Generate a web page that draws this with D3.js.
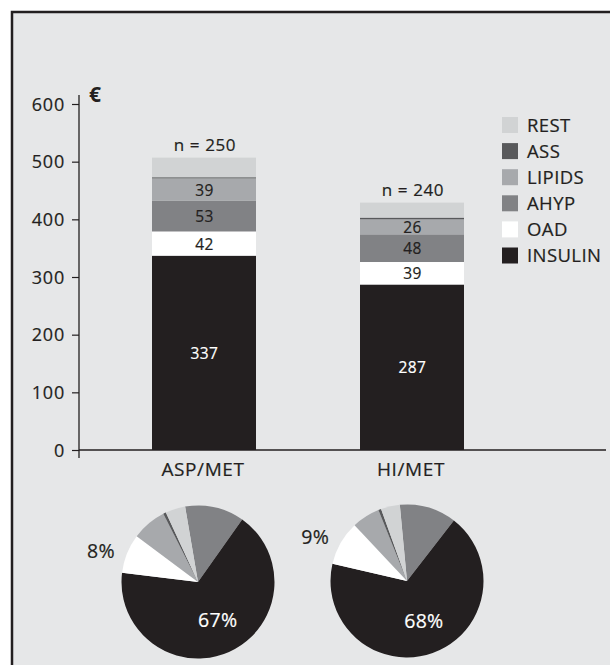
<!DOCTYPE html>
<html>
<head>
<meta charset="utf-8">
<script src="https://cdn.jsdelivr.net/npm/d3@7"></script>
<style>
  html, body { margin: 0; padding: 0; background: #ffffff; }
  svg { display: block; font-family: "Open Sans", "Noto Sans", sans-serif; }
  svg text { stroke-width: 0.2px; }
</style>
</head>
<body>
<svg id="chart" width="610" height="665"></svg>
<script>
// ---- data ----
const groups = ["ASP/MET", "HI/MET"];
const nLabels = ["n = 250", "n = 240"];
const seriesNames = ["INSULIN", "OAD", "AHYP", "LIPIDS", "ASS", "REST"];
const insulin = [337, 287];
const oad = [42, 39];
const ahyp = [53, 48];
const lipids = [39, 26];
const ass = [2, 3];
const rest = [34, 26];
const labelled = ["INSULIN", "OAD", "AHYP", "LIPIDS"];
const yTicks = [0, 100, 200, 300, 400, 500, 600];
const legendOrder = ["REST", "ASS", "LIPIDS", "AHYP", "OAD", "INSULIN"];
// pie shares (%), clockwise order
const pieOrder = ["AHYP", "INSULIN", "OAD", "LIPIDS", "ASS", "REST"];
const pieASP = [12.5, 67.1, 8.3, 7.3, 0.6, 4.2];
const pieHI = [12.0, 68.1, 9.4, 5.9, 0.6, 4.0];
const pieLabelled = ["INSULIN", "OAD"];

// ---- styles ----
const colors = {
  INSULIN: "#231f20", OAD: "#ffffff", AHYP: "#818285",
  LIPIDS: "#a7a9ac", ASS: "#58595b", REST: "#d1d3d4"
};
const textColors = { INSULIN: "#ffffff", OAD: "#231f20", AHYP: "#231f20", LIPIDS: "#231f20" };
const ink = "#231f20";

const svg = d3.select("#chart");
// panel background with border on left/top
svg.append("rect").attr("x", 12).attr("y", 12).attr("width", 620).attr("height", 680)
  .attr("fill", "#e6e7e8").attr("stroke", ink).attr("stroke-width", 2.5);

const y = d3.scaleLinear().domain([0, 600]).range([450, 104]);
const x = d3.scaleBand().domain(groups).range([100, 516]).paddingInner(0.5).paddingOuter(0.25);

// axis
const axis = d3.axisLeft(y).tickValues(yTicks).tickSize(7).tickPadding(7).tickSizeOuter(0);
const gAxis = svg.append("g").attr("transform", "translate(79,0)").call(axis);
gAxis.select(".domain").remove();
gAxis.selectAll(".tick line").attr("stroke", ink).attr("stroke-width", 1.2);
gAxis.selectAll(".tick text").attr("font-size", 18).attr("fill", ink).attr("stroke", ink)
  .attr("letter-spacing", 0.8).attr("dy", "0.34em")
  .attr("font-family", "'Open Sans', sans-serif");
svg.append("line").attr("x1", 79).attr("x2", 79).attr("y1", 95).attr("y2", 458)
  .attr("stroke", ink).attr("stroke-width", 1.3);
svg.append("text").attr("x", 89).attr("y", 102).attr("font-size", 21).attr("font-weight", "bold")
  .attr("fill", ink).text("€");

// stacked data
const table = groups.map((g, i) => ({
  group: g, INSULIN: insulin[i], OAD: oad[i], AHYP: ahyp[i], LIPIDS: lipids[i], ASS: ass[i], REST: rest[i]
}));
const stack = d3.stack().keys(seriesNames)(table);

const gBars = svg.append("g");
stack.forEach(layer => {
  const key = layer.key;
  gBars.selectAll(null).data(layer).enter().append("rect")
    .attr("x", d => x(d.data.group))
    .attr("width", x.bandwidth())
    .attr("y", d => y(d[1]))
    .attr("height", d => y(d[0]) - y(d[1]))
    .attr("fill", colors[key]);
  if (labelled.includes(key)) {
    gBars.selectAll(null).data(layer).enter().append("text")
      .attr("x", d => x(d.data.group) + x.bandwidth() / 2 + 0.5)
      .attr("y", d => (y(d[0]) + y(d[1])) / 2 + 0.5)
      .attr("dy", "0.36em")
      .attr("text-anchor", "middle")
      .attr("font-size", 15.5)
      .attr("letter-spacing", 0.4)
      .attr("fill", textColors[key]).attr("stroke", textColors[key])
      .text(d => d.data[key]);
  }
});
// n labels
const topLayer = stack[stack.length - 1];
svg.selectAll(null).data(topLayer).enter().append("text")
  .attr("x", d => x(d.data.group) + x.bandwidth() / 2 + 1)
  .attr("y", d => y(d[1]) - 7)
  .attr("text-anchor", "middle").attr("font-size", 17).attr("letter-spacing", 0.6)
  .attr("fill", ink).attr("stroke", ink)
  .text((d, i) => nLabels[i]);

// baseline
svg.append("line").attr("x1", 79).attr("x2", 606).attr("y1", y(0)).attr("y2", y(0))
  .attr("stroke", ink).attr("stroke-width", 1.3);
// category labels
svg.selectAll(null).data(groups).enter().append("text")
  .attr("x", d => x(d) + x.bandwidth() / 2 - 1)
  .attr("y", 476).attr("text-anchor", "middle").attr("font-size", 19)
  .attr("letter-spacing", 0.6).attr("fill", ink).attr("stroke", ink)
  .text(d => d);

// legend
const gLeg = svg.append("g");
legendOrder.forEach((k, i) => {
  const yy = 117 + i * 26.1;
  gLeg.append("rect").attr("x", 502).attr("y", yy).attr("width", 16).attr("height", 16).attr("fill", colors[k]);
  gLeg.append("text").attr("x", 527).attr("y", yy + 14.5).attr("font-size", 18.5)
    .attr("letter-spacing", 0.4).attr("fill", ink).attr("stroke", ink).text(k);
});

// pies
const pies = [
  { values: pieASP, cx: 198, cy: 582, start: -9.7 },
  { values: pieHI, cx: 407, cy: 581, start: -5.4 }
];
const r = 76.5;
const arc = d3.arc().innerRadius(0).outerRadius(r);
pies.forEach(p => {
  const a0 = p.start * Math.PI / 180;
  const pie = d3.pie().sort(null).value(d => d.v).startAngle(a0).endAngle(a0 + 2 * Math.PI);
  const arcs = pie(pieOrder.map((k, i) => ({ k, v: p.values[i] })));
  const g = svg.append("g").attr("transform", `translate(${p.cx},${p.cy})`);
  g.selectAll("path").data(arcs).enter().append("path")
    .attr("d", arc).attr("fill", d => colors[d.data.k]);
  arcs.filter(d => pieLabelled.includes(d.data.k)).forEach(d => {
    const inside = d.data.k === "INSULIN";
    const rr = inside ? 43 : 102;
    const mid = (d.startAngle + d.endAngle) / 2 + (inside ? -0.06 : -0.07);
    const col = inside ? "#ffffff" : ink;
    g.append("text")
      .attr("x", Math.sin(mid) * rr)
      .attr("y", -Math.cos(mid) * rr)
      .attr("dy", "0.36em")
      .attr("text-anchor", "middle")
      .attr("font-size", 19.5)
      .attr("letter-spacing", 0.3)
      .attr("fill", col).attr("stroke", col)
      .text(Math.round(d.data.v) + "%");
  });
});
</script>
</body>
</html>
